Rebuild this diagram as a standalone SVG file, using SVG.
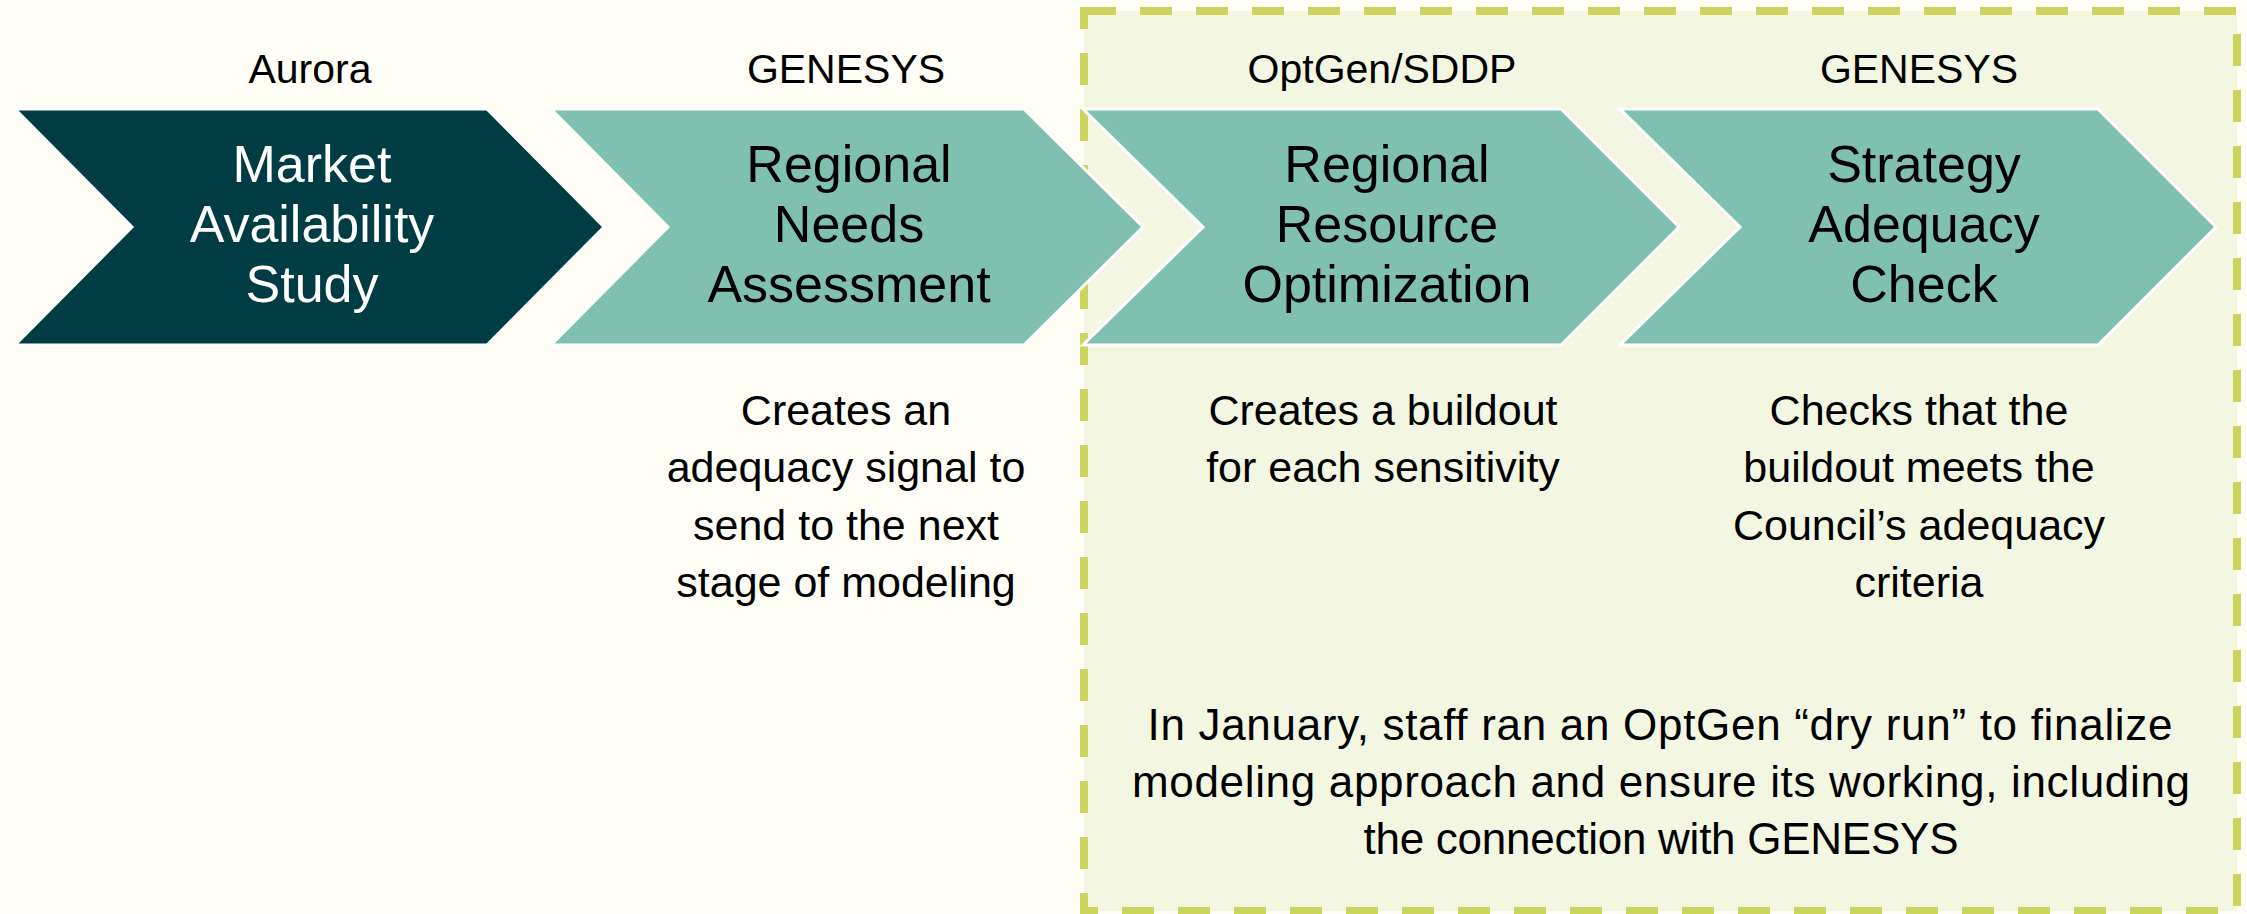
<svg xmlns="http://www.w3.org/2000/svg" width="2247" height="914" viewBox="0 0 2247 914">
<style>
.lbl{font-family:"Liberation Sans",Arial,sans-serif;font-size:41px;fill:#000;text-anchor:middle}
.ttl{font-family:"Liberation Sans",Arial,sans-serif;font-size:52px;fill:#000;text-anchor:middle}
.ttl.w{fill:#fff}
.dsc{font-family:"Liberation Sans",Arial,sans-serif;font-size:43px;fill:#000;text-anchor:middle}
.note{font-family:"Liberation Sans",Arial,sans-serif;font-size:44px;fill:#000;text-anchor:middle}
.chev{stroke:#fff;stroke-width:3;stroke-linejoin:miter}
.dark{fill:#003C44}
.light{fill:#80C0B1}
</style>
<rect x="0" y="0" width="2247" height="914" fill="#FEFDF6"/>
<g id="dashed-box">
<rect x="1084" y="11" width="1153" height="900" fill="#F3F6E1" stroke="#CDD45C" stroke-width="8" stroke-dasharray="32 24"/>
</g>
<g id="connectors"></g>
<g id="node-market">
<text class="lbl" x="310" y="83">Aurora</text>
<polygon class="chev dark" points="15,109 487,109 604,227 487,345 15,345 132,227"/>
<text class="ttl w" x="312" y="182">Market</text>
<text class="ttl w" x="312" y="242">Availability</text>
<text class="ttl w" x="312" y="302">Study</text>
</g>
<g id="node-needs">
<text class="lbl" x="846" y="83">GENESYS</text>
<polygon class="chev light" points="551,109 1024,109 1143,227 1024,345 551,345 668,227"/>
<text class="ttl" x="849" y="182">Regional</text>
<text class="ttl" x="849" y="242">Needs</text>
<text class="ttl" x="849" y="302">Assessment</text>
<text class="dsc" x="846" y="425">Creates an</text>
<text class="dsc" x="846" y="482">adequacy signal to</text>
<text class="dsc" x="846" y="540">send to the next</text>
<text class="dsc" x="846" y="597">stage of modeling</text>
</g>
<g id="node-optimization">
<text class="lbl" x="1382" y="83">OptGen/SDDP</text>
<polygon class="chev light" points="1083,109 1561,109 1679,227 1561,345 1083,345 1203,227"/>
<text class="ttl" x="1387" y="182">Regional</text>
<text class="ttl" x="1387" y="242">Resource</text>
<text class="ttl" x="1387" y="302">Optimization</text>
<text class="dsc" x="1383" y="425">Creates a buildout</text>
<text class="dsc" x="1383" y="482">for each sensitivity</text>
</g>
<g id="node-check">
<text class="lbl" x="1919" y="83">GENESYS</text>
<polygon class="chev light" points="1620,109 2098,109 2216,227 2098,345 1620,345 1740,227"/>
<text class="ttl" x="1924" y="182">Strategy</text>
<text class="ttl" x="1924" y="242">Adequacy</text>
<text class="ttl" x="1924" y="302">Check</text>
<text class="dsc" x="1919" y="425">Checks that the</text>
<text class="dsc" x="1919" y="482">buildout meets the</text>
<text class="dsc" x="1919" y="540">Council’s adequacy</text>
<text class="dsc" x="1919" y="597">criteria</text>
</g>
<g id="note">
<text class="note" x="1660" y="740" textLength="1025">In January, staff ran an OptGen “dry run” to finalize</text>
<text class="note" x="1661" y="797" textLength="1058">modeling approach and ensure its working, including</text>
<text class="note" x="1661" y="854" textLength="595">the connection with GENESYS</text>
</g>
</svg>
